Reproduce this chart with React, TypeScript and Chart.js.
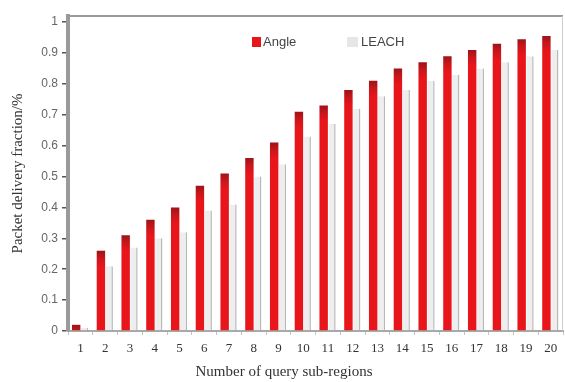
import React, { useEffect, useRef } from "react";
import { Chart, registerables } from "chart.js";

Chart.register(...registerables);

const categories = ["1","2","3","4","5","6","7","8","9","10","11","12","13","14","15","16","17","18","19","20"];
const angleValues = [0.02,0.26,0.31,0.36,0.40,0.47,0.51,0.56,0.61,0.71,0.73,0.78,0.81,0.85,0.87,0.89,0.91,0.93,0.945,0.955];
const leachValues = [0.01,0.21,0.27,0.30,0.32,0.39,0.41,0.50,0.54,0.63,0.67,0.72,0.76,0.78,0.81,0.83,0.85,0.87,0.89,0.91];
const yTicks = [0,0.1,0.2,0.3,0.4,0.5,0.6,0.7,0.8,0.9,1];
const seriesNames = ["Angle", "LEACH"];
const xTitle = "Number of query sub-regions";
const yTitle = "Packet delivery fraction/%";

const RED = "#e8151b";
const RED_DARK = "#9c1418";
const PALE = "#eeeeee";
const PALE_EDGE = "#b8b8b8";

const framePlugin = {
  id: "frameLegend",
  afterDraw(chart: any) {
    const { ctx, chartArea } = chart;
    const { left, right, top, bottom } = chartArea;
    ctx.save();
    ctx.strokeStyle = "#9a9a9a";
    ctx.lineWidth = 2;
    ctx.beginPath();
    ctx.moveTo(left, top);
    ctx.lineTo(right, top);
    ctx.stroke();
    ctx.strokeStyle = "#cfcfcf";
    ctx.lineWidth = 1;
    ctx.beginPath();
    ctx.moveTo(right - 0.5, top);
    ctx.lineTo(right - 0.5, bottom);
    ctx.stroke();
    const ly = top + 26;
    const lx1 = left + 184;
    const lx2 = left + 279;
    ctx.font = "13px 'Liberation Sans', Arial, sans-serif";
    ctx.textBaseline = "middle";
    ctx.textAlign = "left";
    ctx.fillStyle = RED;
    ctx.fillRect(lx1, ly - 5, 9, 10);
    ctx.fillStyle = "#444";
    ctx.fillText(seriesNames[0], lx1 + 11, ly);
    ctx.fillStyle = "#e6e6e6";
    ctx.fillRect(lx2, ly - 5, 11, 10);
    ctx.fillStyle = "#444";
    ctx.fillText(seriesNames[1], lx2 + 14, ly);
    ctx.font = "15px 'Liberation Serif', 'Times New Roman', serif";
    ctx.textAlign = "center";
    ctx.fillStyle = "#333";
    ctx.fillText(xTitle, left + 216, bottom + 41);
    ctx.restore();
  },
};

function redFill(context: any) {
  const chart = context.chart;
  const yScale = chart.scales && chart.scales.y;
  if (!yScale || context.raw == null) return RED;
  const yTop = yScale.getPixelForValue(context.raw);
  if (!Number.isFinite(yTop)) return RED;
  const g = chart.ctx.createLinearGradient(0, yTop, 0, yTop + 16);
  g.addColorStop(0, RED_DARK);
  g.addColorStop(0.45, "#c8161b");
  g.addColorStop(1, RED);
  return g;
}

export default function App() {
  const ref = useRef<HTMLCanvasElement | null>(null);
  useEffect(() => {
    document.body.style.margin = "0";
    const canvas = ref.current;
    if (!canvas) return;
    const chart = new Chart(canvas, {
      type: "bar",
      data: {
        labels: categories,
        datasets: [
          {
            label: seriesNames[0],
            data: angleValues,
            backgroundColor: redFill,
            borderWidth: 0,
            categoryPercentage: 0.68,
            barPercentage: 1,
          },
          {
            label: seriesNames[1],
            data: leachValues,
            backgroundColor: PALE,
            borderColor: PALE_EDGE,
            borderWidth: { top: 0, left: 0, right: 1.5, bottom: 0 },
            borderSkipped: "start",
            categoryPercentage: 0.68,
            barPercentage: 0.85,
          },
        ],
      },
      options: {
        responsive: false,
        animation: false,
        layout: { padding: { top: 16, right: 2, left: 0, bottom: 0 } },
        plugins: {
          legend: { display: false },
          tooltip: { enabled: false },
        },
        scales: {
          x: {
            type: "category",
            offset: true,
            grid: {
              display: true,
              drawOnChartArea: false,
              drawTicks: true,
              tickLength: 4,
              color: "#c4c4c4",
              offset: true,
            },
            border: { display: true, color: "#a8a8a8", width: 2 },
            ticks: {
              font: { family: "'Liberation Serif', 'Times New Roman', serif", size: 13 },
              color: "#333",
              padding: 6,
              maxRotation: 0,
              autoSkip: false,
            },
            afterFit: (s: any) => {
              s.height = 51;
            },
          },
          y: {
            min: 0,
            max: 1.02,
            afterBuildTicks: (s: any) => {
              s.ticks = yTicks.map((v) => ({ value: v }));
            },
            ticks: {
              callback: (v: any) => String(Number(Number(v).toFixed(2))),
              font: { family: "'Liberation Sans', Arial, sans-serif", size: 12 },
              color: "#666",
              padding: 4,
            },
            grid: {
              display: true,
              drawOnChartArea: false,
              drawTicks: true,
              tickLength: 6,
              color: "#555",
              lineWidth: 1.5,
            },
            border: { display: true, color: "#9a9a9a", width: 4 },
            title: {
              display: true,
              text: yTitle,
              font: { family: "'Liberation Serif', 'Times New Roman', serif", size: 15 },
              color: "#333",
              padding: { top: 9, bottom: 0 },
            },
            afterFit: (s: any) => {
              s.width = 68;
            },
          },
        },
      },
      plugins: [framePlugin],
    });
    return () => chart.destroy();
  }, []);
  return (
    <div style={{ width: 565, height: 382 }}>
      <canvas ref={ref} width={565} height={382} style={{ display: "block" }} />
    </div>
  );
}
